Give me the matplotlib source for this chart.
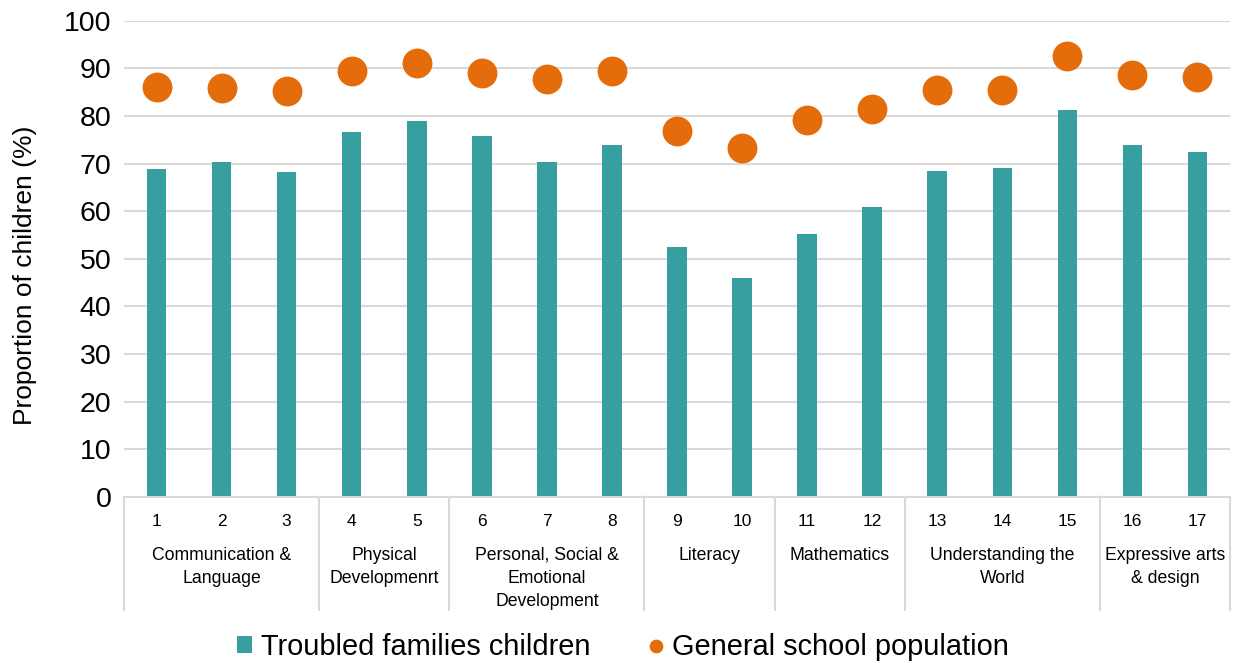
import matplotlib
matplotlib.use("Agg")
import matplotlib.pyplot as plt
from matplotlib.transforms import blended_transform_factory

plt.rcParams['font.family'] = ['Liberation Sans', 'DejaVu Sans']

# Early years goals, numbered and grouped by learning area
goal_numbers = list(range(1, 18))
troubled_families = [68.8, 70.3, 68.3, 76.6, 79.0, 75.7, 70.3, 73.8, 52.4,
                     45.9, 55.2, 60.8, 68.5, 69.0, 81.3, 73.9, 72.5]
general_population = [86.1, 85.8, 85.3, 89.5, 91.1, 89.0, 87.8, 89.5, 76.8,
                      73.2, 79.1, 81.5, 85.5, 85.5, 92.6, 88.6, 88.2]
group_names = ["Communication &\nLanguage", "Physical\nDevelopmenrt",
               "Personal, Social &\nEmotional\nDevelopment", "Literacy",
               "Mathematics", "Understanding the\nWorld",
               "Expressive arts\n& design"]
group_sizes = [3, 2, 3, 2, 2, 3, 2]

teal = "#389FA1"
orange = "#E46C0A"
grid_grey = "#D9D9D9"

W, H, DPI = 1236, 663, 100
fig = plt.figure(figsize=(W / DPI, H / DPI), dpi=DPI)
ax_w = 1230 - 124
ax_h = 497 - 20.7
ax = fig.add_axes([124 / W, 1 - 497 / H, ax_w / W, ax_h / H])

bars = ax.bar(goal_numbers, troubled_families, width=0.3, color=teal,
              label="Troubled families children", zorder=2)
dots, = ax.plot(goal_numbers, general_population, linestyle="none",
                marker="o", markersize=21.5, color=orange,
                markeredgewidth=0, label="General school population",
                zorder=3)

ax.set_xlim(0.5, 17.5)
ax.set_ylim(0, 100)
ax.set_yticks(range(0, 101, 10))
ax.tick_params(axis="y", length=0, labelsize=20.5, pad=9, colors="black")
ax.yaxis.grid(True, color=grid_grey, linewidth=1.5, zorder=0)
ax.set_axisbelow(True)
for side in ("left", "right", "top"):
    ax.spines[side].set_visible(False)
ax.spines["bottom"].set_color(grid_grey)
ax.spines["bottom"].set_linewidth(1.5)
ax.set_xticks([])
ax.set_ylabel("Proportion of children (%)", fontsize=19, va="center")
ax.yaxis.set_label_coords((25 - 124) / ax_w, (497 - 275) / ax_h)

# Two-level category axis: goal numbers, then learning-area names
trans = blended_transform_factory(ax.transData, ax.transAxes)
num_y = -(521 - 497) / ax_h
grp_y = -(547 - 497) / ax_h
sep_y = -(610 - 497) / ax_h

for n in goal_numbers:
    ax.text(n, num_y, str(n), transform=trans, ha="center", va="center",
            fontsize=12.5)

start = 0.5
ax.plot([start, start], [0, sep_y], transform=trans, color=grid_grey,
        linewidth=1.5, clip_on=False)
for name, size in zip(group_names, group_sizes):
    end = start + size
    ax.text((start + end) / 2, grp_y, name, transform=trans, ha="center",
            va="top", fontsize=12.7, linespacing=1.45)
    ax.plot([end, end], [0, sep_y], transform=trans, color=grid_grey,
            linewidth=1.5, clip_on=False)
    start = end

fig.legend(handles=[bars, dots], loc="center",
           bbox_to_anchor=(0.504, 1 - 647 / H), ncol=2, frameon=False,
           fontsize=20.9, handlelength=0.52, handleheight=0.52,
           handletextpad=0.3, columnspacing=2.0, markerscale=0.46)

fig.savefig("out.png", dpi=DPI)
